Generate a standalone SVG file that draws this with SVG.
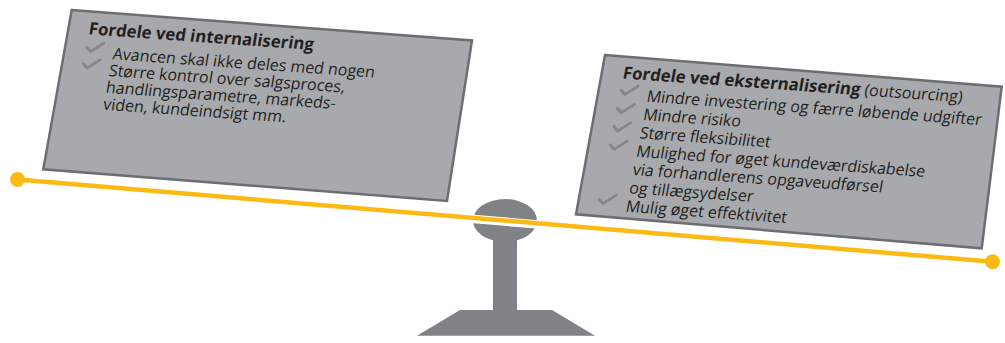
<svg xmlns="http://www.w3.org/2000/svg" width="1005" height="343" viewBox="0 0 1005 343">
<defs>
<style>
.box{fill:#a7a9ac;stroke:#6d6e71;stroke-width:2.5;stroke-linejoin:miter}
.t{font-family:"Open Sans","Noto Sans","DejaVu Sans",sans-serif;font-size:16px;fill:#231f20}
.b{font-weight:bold;font-size:16.8px}
.ck{fill:none;stroke:#86888b;stroke-width:3;stroke-linecap:round;stroke-linejoin:round}
.stand{fill:#808285}
</style>
<path id="check" class="ck" d="M-8,0.5 L-3.5,4.5 L8,-4.5"/>
</defs>
<rect width="1005" height="343" fill="#ffffff"/>

<g id="stand">
<path class="stand" d="M460,310 L552,310 L595,335.7 L417,335.7 Z"/>
<rect class="stand" x="493" y="232" width="24" height="80"/>
<ellipse class="stand" cx="505" cy="220.5" rx="32" ry="21.5"/>
</g>

<g id="connectors">
<line x1="465" y1="218.3" x2="548" y2="225.3" stroke="#ffffff" stroke-width="8.5"/>
<line x1="17.5" y1="179.5" x2="992.5" y2="261.7" stroke="#fdb913" stroke-width="4.5"/>
<circle cx="17.5" cy="179.5" r="7.5" fill="#fdb913"/>
<circle cx="992.5" cy="261.7" r="7.5" fill="#fdb913"/>
</g>

<g id="internal">
<path class="box" d="M71.7,10 L472,40.5 L447,201 L43.3,169.3 Z"/>
<g transform="matrix(0.9976,0.0698,-0.17,1,88,34.3)">
<text class="t b" x="0" y="0">Fordele ved internalisering</text>
<use href="#check" x="9" y="12.3"/>
<text class="t" x="28" y="23">Avancen skal ikke deles med nogen</text>
<use href="#check" x="8.4" y="28.8"/>
<text class="t" x="27" y="39.8">Større kontrol over salgsproces,</text>
<text class="t" x="27" y="56.6">handlingsparametre, markeds-</text>
<text class="t" x="27" y="73.4">viden, kundeindsigt mm.</text>
</g>
</g>

<g id="external">
<path class="box" d="M605,55 L1001.7,86.7 L981.7,248.3 L576,214.3 Z"/>
<g transform="matrix(0.9976,0.0698,-0.19,1,622,78.5)">
<text class="t" x="0" y="0"><tspan class="b">Fordele ved eksternalisering</tspan> (outsourcing)</text>
<use href="#check" x="9.2" y="11"/>
<text class="t" x="28" y="21.2">Mindre investering og færre løbende udgifter</text>
<use href="#check" x="9" y="29.3"/>
<text class="t" x="28" y="39.5">Mindre risiko</text>
<use href="#check" x="9" y="47.6"/>
<text class="t" x="28" y="57.8">Større fleksibilitet</text>
<use href="#check" x="9" y="65.9"/>
<text class="t" x="28" y="76.2">Mulighed for øget kundeværdiskabelse</text>
<text class="t" x="28" y="94.5">via forhandlerens opgaveudførsel</text>
<text class="t" x="28" y="112.8">og tillægsydelser</text>
<use href="#check" x="8.2" y="120.2"/>
<text class="t" x="28" y="131.2">Mulig øget effektivitet</text>
</g>
</g>
</svg>
